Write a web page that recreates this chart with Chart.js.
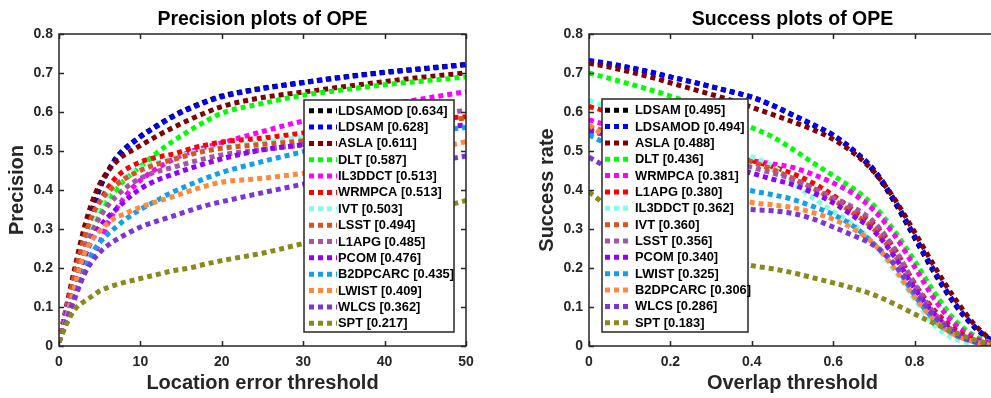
<!DOCTYPE html>
<html>
<head>
<meta charset="utf-8">
<script src="https://cdn.jsdelivr.net/npm/chart.js@4.4.1/dist/chart.umd.min.js"></script>
<style>
  html, body { margin: 0; padding: 0; background: #fff; overflow: hidden; }
  body { width: 991px; height: 398px; position: relative; }
  .box { position: absolute; top: 0; height: 398px; }
  #leftBox { left: 0; width: 480px; }
  #rightBox { left: 520px; width: 490px; }
</style>
</head>
<body>
<div class="box" id="leftBox"><canvas id="precChart"></canvas></div>
<div class="box" id="rightBox"><canvas id="succChart"></canvas></div>
<script>
// Precision plot (location error threshold in pixels)
const precThresholds = [0, 1, 2, 3, 4, 5, 6, 7, 8, 9, 10, 12, 14, 16, 18, 20, 25, 30, 35, 40, 45, 50];
const precNames = ['LDSAMOD', 'LDSAM', 'ASLA', 'DLT', 'IL3DDCT', 'WRMPCA', 'IVT', 'LSST', 'L1APG', 'PCOM', 'B2DPCARC', 'LWIST', 'WLCS', 'SPT'];
const precScores = ['0.634', '0.628', '0.611', '0.587', '0.513', '0.513', '0.503', '0.494', '0.485', '0.476', '0.435', '0.409', '0.362', '0.217'];
const precLDSAMOD = [0.01, 0.10, 0.18, 0.26, 0.34, 0.405, 0.448, 0.482, 0.505, 0.522, 0.538, 0.565, 0.59, 0.61, 0.627, 0.641, 0.661, 0.676, 0.69, 0.702, 0.712, 0.722];
const precLDSAM = [0.01, 0.10, 0.18, 0.26, 0.34, 0.404, 0.447, 0.48, 0.503, 0.52, 0.536, 0.563, 0.588, 0.608, 0.625, 0.639, 0.66, 0.675, 0.689, 0.701, 0.711, 0.721];
const precASLA = [0.01, 0.11, 0.205, 0.295, 0.365, 0.415, 0.448, 0.472, 0.49, 0.502, 0.514, 0.538, 0.56, 0.58, 0.598, 0.614, 0.637, 0.651, 0.665, 0.678, 0.69, 0.70];
const precDLT = [0.01, 0.09, 0.16, 0.23, 0.29, 0.34, 0.375, 0.40, 0.425, 0.443, 0.46, 0.495, 0.525, 0.552, 0.576, 0.597, 0.622, 0.643, 0.657, 0.67, 0.68, 0.69];
const precIL3DDCT = [0.01, 0.07, 0.125, 0.18, 0.225, 0.265, 0.315, 0.35, 0.38, 0.405, 0.425, 0.455, 0.478, 0.497, 0.51, 0.521, 0.55, 0.577, 0.598, 0.617, 0.635, 0.652];
const precWRMPCA = [0.01, 0.09, 0.17, 0.26, 0.33, 0.37, 0.405, 0.432, 0.45, 0.462, 0.472, 0.484, 0.492, 0.505, 0.515, 0.523, 0.533, 0.546, 0.558, 0.57, 0.58, 0.588];
const precIVT = [0.01, 0.10, 0.18, 0.26, 0.32, 0.36, 0.39, 0.413, 0.43, 0.445, 0.457, 0.47, 0.482, 0.493, 0.503, 0.51, 0.523, 0.535, 0.545, 0.553, 0.56, 0.565];
const precLSST = [0.01, 0.10, 0.19, 0.27, 0.33, 0.37, 0.395, 0.413, 0.428, 0.44, 0.45, 0.466, 0.478, 0.49, 0.50, 0.507, 0.517, 0.526, 0.54, 0.555, 0.57, 0.585];
const precL1APG = [0.01, 0.09, 0.16, 0.23, 0.29, 0.33, 0.36, 0.383, 0.402, 0.418, 0.43, 0.447, 0.458, 0.47, 0.481, 0.49, 0.503, 0.517, 0.537, 0.562, 0.587, 0.605];
const precPCOM = [0.01, 0.09, 0.16, 0.22, 0.27, 0.305, 0.33, 0.35, 0.37, 0.388, 0.403, 0.425, 0.44, 0.455, 0.468, 0.48, 0.503, 0.516, 0.53, 0.545, 0.556, 0.567];
const precB2DPCARC = [0.01, 0.07, 0.13, 0.185, 0.235, 0.265, 0.287, 0.305, 0.322, 0.337, 0.35, 0.373, 0.395, 0.413, 0.43, 0.445, 0.473, 0.498, 0.52, 0.537, 0.55, 0.56];
const precLWIST = [0.01, 0.08, 0.16, 0.23, 0.27, 0.295, 0.315, 0.33, 0.338, 0.348, 0.356, 0.37, 0.383, 0.397, 0.41, 0.42, 0.43, 0.443, 0.46, 0.48, 0.50, 0.524];
const precWLCS = [0.01, 0.07, 0.13, 0.18, 0.215, 0.24, 0.258, 0.272, 0.284, 0.295, 0.305, 0.32, 0.333, 0.347, 0.36, 0.37, 0.393, 0.415, 0.435, 0.455, 0.47, 0.487];
const precSPT = [0.01, 0.06, 0.095, 0.113, 0.127, 0.141, 0.15, 0.157, 0.163, 0.168, 0.173, 0.183, 0.193, 0.20, 0.21, 0.219, 0.238, 0.263, 0.29, 0.315, 0.345, 0.373];

// Success plot (overlap threshold)
const succThresholds = [0, 0.05, 0.1, 0.15, 0.2, 0.25, 0.3, 0.35, 0.4, 0.45, 0.5, 0.55, 0.6, 0.65, 0.7, 0.75, 0.8, 0.85, 0.9, 0.95, 1.0];
const succNames = ['LDSAM', 'LDSAMOD', 'ASLA', 'DLT', 'WRMPCA', 'L1APG', 'IL3DDCT', 'IVT', 'LSST', 'PCOM', 'LWIST', 'B2DPCARC', 'WLCS', 'SPT'];
const succScores = ['0.495', '0.494', '0.488', '0.436', '0.381', '0.380', '0.362', '0.360', '0.356', '0.340', '0.325', '0.306', '0.286', '0.183'];
const succLDSAM = [0.73, 0.722, 0.713, 0.702, 0.69, 0.678, 0.665, 0.652, 0.638, 0.617, 0.592, 0.567, 0.54, 0.50, 0.448, 0.37, 0.277, 0.185, 0.105, 0.045, 0.005];
const succLDSAMOD = [0.732, 0.724, 0.714, 0.703, 0.69, 0.678, 0.665, 0.652, 0.638, 0.618, 0.593, 0.568, 0.541, 0.502, 0.452, 0.375, 0.282, 0.19, 0.108, 0.047, 0.005];
const succASLA = [0.725, 0.715, 0.703, 0.69, 0.675, 0.66, 0.645, 0.63, 0.612, 0.594, 0.575, 0.555, 0.53, 0.495, 0.447, 0.378, 0.292, 0.202, 0.12, 0.052, 0.005];
const succDLT = [0.70, 0.686, 0.672, 0.657, 0.641, 0.623, 0.605, 0.585, 0.56, 0.537, 0.505, 0.47, 0.437, 0.403, 0.36, 0.295, 0.218, 0.135, 0.065, 0.025, 0.003];
const succWRMPCA = [0.58, 0.565, 0.55, 0.535, 0.52, 0.507, 0.495, 0.485, 0.475, 0.467, 0.458, 0.44, 0.418, 0.39, 0.348, 0.285, 0.203, 0.118, 0.055, 0.02, 0.002];
const succL1APG = [0.614, 0.60, 0.585, 0.568, 0.552, 0.536, 0.518, 0.498, 0.476, 0.46, 0.442, 0.418, 0.386, 0.348, 0.312, 0.25, 0.16, 0.09, 0.042, 0.015, 0.002];
const succIL3DDCT = [0.63, 0.61, 0.59, 0.57, 0.553, 0.537, 0.52, 0.503, 0.485, 0.462, 0.42, 0.38, 0.345, 0.312, 0.262, 0.195, 0.12, 0.052, 0.018, 0.005, 0.001];
const succIVT = [0.56, 0.55, 0.54, 0.53, 0.52, 0.508, 0.497, 0.485, 0.472, 0.453, 0.43, 0.405, 0.375, 0.34, 0.30, 0.235, 0.15, 0.08, 0.035, 0.012, 0.002];
const succLSST = [0.55, 0.54, 0.53, 0.52, 0.51, 0.498, 0.486, 0.472, 0.458, 0.444, 0.428, 0.405, 0.38, 0.355, 0.318, 0.25, 0.16, 0.082, 0.035, 0.012, 0.002];
const succPCOM = [0.554, 0.54, 0.527, 0.513, 0.50, 0.487, 0.473, 0.458, 0.443, 0.428, 0.414, 0.393, 0.367, 0.333, 0.295, 0.23, 0.148, 0.08, 0.035, 0.012, 0.002];
const succLWIST = [0.541, 0.515, 0.49, 0.47, 0.452, 0.437, 0.423, 0.41, 0.398, 0.388, 0.376, 0.358, 0.337, 0.307, 0.262, 0.21, 0.13, 0.065, 0.028, 0.01, 0.001];
const succB2DPCARC = [0.567, 0.53, 0.49, 0.46, 0.435, 0.415, 0.397, 0.382, 0.368, 0.362, 0.355, 0.342, 0.325, 0.30, 0.262, 0.20, 0.125, 0.065, 0.028, 0.01, 0.001];
const succWLCS = [0.484, 0.455, 0.43, 0.41, 0.393, 0.38, 0.37, 0.36, 0.35, 0.347, 0.34, 0.326, 0.305, 0.283, 0.258, 0.21, 0.14, 0.075, 0.032, 0.01, 0.001];
const succSPT = [0.395, 0.355, 0.32, 0.29, 0.265, 0.245, 0.23, 0.217, 0.206, 0.198, 0.188, 0.175, 0.162, 0.148, 0.131, 0.108, 0.082, 0.057, 0.034, 0.015, 0.002];

// line colours by rank (same in both plots)
const rankColors = ['#000000', '#0000ff', '#800000', '#00ff00', '#ff00ff', '#ff0000', '#80ffe6',
  '#d9541e', '#a555a3', '#9000ff', '#14a0e6', '#ff8a3d', '#7d36d6', '#8a8a1c'];

const INK = '#262626';
Chart.defaults.font.family = "'Liberation Sans', Arial, Helvetica, sans-serif";
Chart.defaults.animation = false;

function makeDatasets(xs, series, names) {
  return series.map((vals, i) => ({
    label: names[i],
    data: vals.map((v, j) => ({ x: xs[j], y: v })),
    borderColor: rankColors[i],
    backgroundColor: rankColors[i],
    borderWidth: 5,
    borderDash: [5, 4],
    borderCapStyle: 'butt',
    pointRadius: 0,
    fill: false,
    cubicInterpolationMode: 'monotone',
    order: -i
  }));
}

// box, inward ticks and boxed legend like the MATLAB figure
const matlabFrame = {
  id: 'matlabFrame',
  afterDatasetsDraw(chart, args, opts) {
    const { ctx, chartArea: a, scales: { x, y } } = chart;
    ctx.save();
    ctx.strokeStyle = INK;
    ctx.lineWidth = 1.5;
    ctx.setLineDash([]);
    ctx.strokeRect(a.left, a.top, a.width, a.height);
    ctx.beginPath();
    x.ticks.forEach(t => {
      const px = Math.round(x.getPixelForValue(t.value)) + 0.5;
      ctx.moveTo(px, a.bottom); ctx.lineTo(px, a.bottom - 5);
      ctx.moveTo(px, a.top); ctx.lineTo(px, a.top + 5);
    });
    y.ticks.forEach(t => {
      const py = Math.round(y.getPixelForValue(t.value)) + 0.5;
      ctx.moveTo(a.left, py); ctx.lineTo(a.left + 5, py);
      ctx.moveTo(a.right, py); ctx.lineTo(a.right - 5, py);
    });
    ctx.stroke();

    // legend
    const L = opts;
    const bx = L.anchor === 'right' ? a.right - L.dx - L.width : a.left + L.dx;
    const by = a.bottom - L.dy - L.height;
    ctx.fillStyle = '#fff';
    ctx.fillRect(bx, by, L.width, L.height);
    ctx.strokeStyle = INK;
    ctx.lineWidth = 1.5;
    ctx.strokeRect(bx, by, L.width, L.height);
    ctx.font = 'bold 12.9px ' + Chart.defaults.font.family;
    ctx.textBaseline = 'middle';
    ctx.textAlign = 'left';
    chart.data.datasets.forEach((ds, i) => {
      const ry = by + L.first + i * L.step;
      ctx.beginPath();
      ctx.strokeStyle = ds.borderColor;
      ctx.lineWidth = 5;
      ctx.lineCap = 'butt';
      ctx.setLineDash([5, 4]);
      ctx.moveTo(bx + L.sampleX, ry);
      ctx.lineTo(bx + L.sampleX + L.sampleW, ry);
      ctx.stroke();
      ctx.setLineDash([]);
      ctx.fillStyle = '#000';
      ctx.fillText(ds.label + ' [' + L.scores[i] + ']', bx + L.textX, ry + 0.5);
    });
    ctx.restore();
  }
};

function axisOpts(min, max, step, titleText, fmt) {
  return {
    type: 'linear', min, max,
    ticks: { stepSize: step, color: INK, font: { size: 14, weight: 'bold' }, padding: 7, callback: fmt },
    grid: { display: false, drawTicks: false },
    border: { display: false },
    title: { display: true, text: titleText, color: INK, font: { size: 20, weight: 'bold' } }
  };
}

function makeChart(id, xs, series, names, scores, xMax, xStep, xTitle, yTitle, title, yWidth, padRight, legend, yTitlePad) {
  const xAxis = axisOpts(0, xMax, xStep, xTitle, v => (v >= 1 && xMax === 1) ? '' : String(+v.toFixed(2)));
  xAxis.ticks.padding = 8;
  xAxis.title.padding = { top: 0, bottom: 3 };
  xAxis.afterFit = s => { s.height = 52; s.paddingLeft = 0; s.paddingRight = 0; };
  const yAxis = axisOpts(0, 0.8, 0.1, yTitle, v => String(+v.toFixed(1)));
  yAxis.ticks.padding = 6;
  yAxis.title.padding = { top: yTitlePad, bottom: 0 };
  yAxis.afterFit = s => { s.width = yWidth; };
  return new Chart(document.getElementById(id), {
    type: 'line',
    data: { datasets: makeDatasets(xs, series, names) },
    options: {
      responsive: true,
      maintainAspectRatio: false,
      layout: { padding: { left: 0, right: padRight, top: 0, bottom: 0 } },
      scales: { x: xAxis, y: yAxis },
      plugins: {
        legend: { display: false },
        tooltip: { enabled: false },
        title: {
          display: true, text: title, fullSize: false, color: '#000',
          font: { size: 19.5, weight: 'bold' }, padding: { top: 7.8, bottom: 2.8 }
        },
        matlabFrame: Object.assign({ scores }, legend)
      }
    },
    plugins: [matlabFrame]
  });
}

makeChart('precChart', precThresholds,
  [precLDSAMOD, precLDSAM, precASLA, precDLT, precIL3DDCT, precWRMPCA, precIVT, precLSST, precL1APG, precPCOM, precB2DPCARC, precLWIST, precWLCS, precSPT],
  precNames, precScores, 50, 10, 'Location error threshold', 'Precision', 'Precision plots of OPE',
  59, 14,
  { anchor: 'right', dx: 12, dy: 14, width: 150, height: 232, first: 10.7, step: 16.35, sampleX: 5, sampleW: 28, textX: 34 },
  5.5);

makeChart('succChart', succThresholds,
  [succLDSAM, succLDSAMOD, succASLA, succDLT, succWRMPCA, succL1APG, succIL3DDCT, succIVT, succLSST, succPCOM, succLWIST, succB2DPCARC, succWLCS, succSPT],
  succNames, succScores, 1, 0.2, 'Overlap threshold', 'Success rate', 'Success plots of OPE',
  69, 14,
  { anchor: 'left', dx: 13, dy: 14, width: 146, height: 233, first: 11.2, step: 16.35, sampleX: 3, sampleW: 23, textX: 33 },
  15.5);
</script>
</body>
</html>
